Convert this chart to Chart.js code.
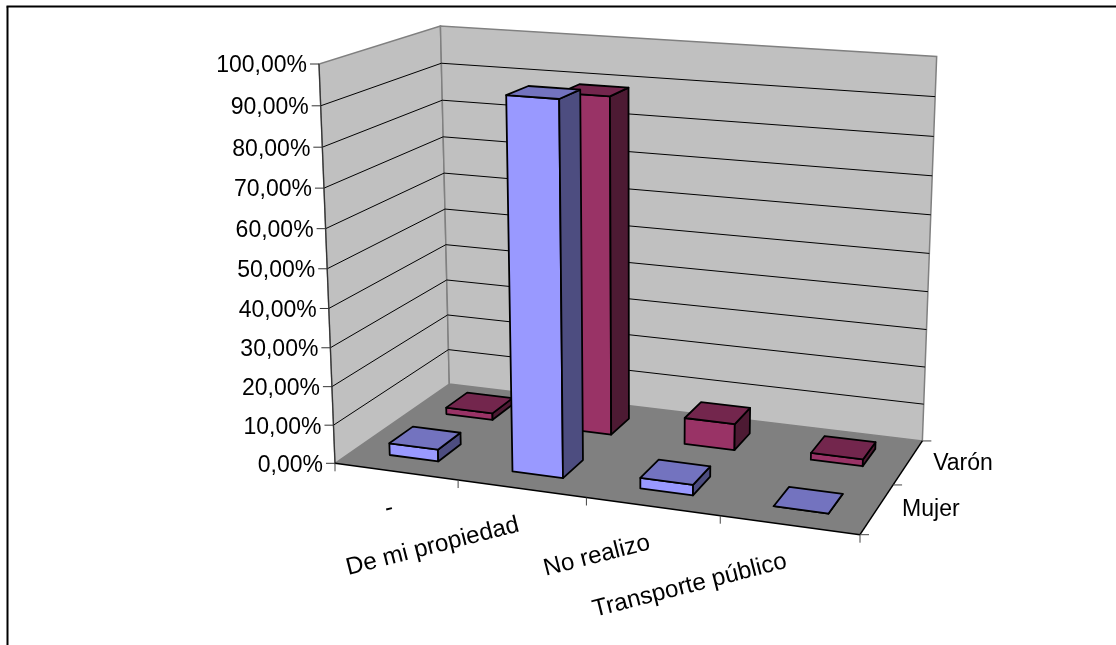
<!DOCTYPE html>
<html>
<head>
<meta charset="utf-8">
<title>Transporte</title>
<script src="https://cdn.jsdelivr.net/npm/chart.js@4/dist/chart.umd.min.js"></script>
<style>
  html, body { margin: 0; padding: 0; background: #fff; overflow: hidden; }
  canvas { display: block; }
</style>
</head>
<body>
<canvas id="chart" width="1116" height="645"></canvas>
<script>
const categories = ['-', 'De mi propiedad', 'No realizo', 'Transporte público'];
const seriesNames = ['Mujer', 'Varón'];
const mujerValues = [3.1, 93.8, 2.7, 0];
const varonValues = [1.8, 88.8, 7, 1.8];
const valueMax = 100;
const valueStep = 10;

const FONT = '23px "Liberation Sans"';
const CATEGORY_FONT = '24.2px "Liberation Sans"';
const DEPTH_PCT = 0.4;

// corners of the 3d box on the page, and how much each axis shrinks with distance
const O = [335, 463.3], U = [860, 534.7], V = [319, 64], W = [449.3, 384];
const PERSP = { u: 0.919, v: 0.95, w: 1.1205 };

function project(u, v, w) {
  const a = u * PERSP.u, b = v * PERSP.v, c = w * PERSP.w, r = 1 - u - v - w;
  const d = r + a + b + c;
  return [
    (O[0] * r + U[0] * a + V[0] * b + W[0] * c) / d,
    (O[1] * r + U[1] * a + V[1] * b + W[1] * c) / d
  ];
}

function poly(ctx, pts, fill, stroke, lw) {
  ctx.beginPath();
  pts.forEach((p, i) => i ? ctx.lineTo(p[0], p[1]) : ctx.moveTo(p[0], p[1]));
  ctx.closePath();
  if (fill) { ctx.fillStyle = fill; ctx.fill(); }
  if (stroke) { ctx.strokeStyle = stroke; ctx.lineWidth = lw; ctx.stroke(); }
}

function line(ctx, a, b, color, lw) {
  ctx.beginPath();
  ctx.moveTo(a[0], a[1]);
  ctx.lineTo(b[0], b[1]);
  ctx.strokeStyle = color;
  ctx.lineWidth = lw;
  ctx.stroke();
}

const box3d = {
  id: 'box3d',
  beforeDatasetsDraw(chart) {
    const ctx = chart.ctx, { x: xs, y: ys } = chart.scales;
    const area = chart.chartArea;
    const vOf = val => (area.bottom - ys.getPixelForValue(val)) / (area.bottom - area.top);

    ctx.save();
    // frame, cut by the page on the right and at the bottom
    line(ctx, [7.5, 645], [7.5, 6.5], '#000', 2);
    line(ctx, [6.5, 6.5], [1116, 6.5], '#000', 2);

    // walls and floor
    poly(ctx, [project(0, 0, 0), project(0, 1, 0), project(0, 1, 1), project(0, 0, 1)], '#c0c0c0', '#808080', 1.5);
    poly(ctx, [project(0, 0, 1), project(0, 1, 1), project(1, 1, 1), project(1, 0, 1)], '#c0c0c0', '#808080', 1.5);
    poly(ctx, [project(0, 0, 0), project(1, 0, 0), project(1, 0, 1), project(0, 0, 1)], '#808080');

    // value gridlines, ticks and labels
    ctx.font = FONT;
    ctx.textAlign = 'right';
    ctx.textBaseline = 'middle';
    ys.ticks.forEach(t => {
      const v = vOf(t.value), p = project(0, v, 0);
      if (t.value > 0 && t.value < valueMax) {
        line(ctx, p, project(0, v, 1), '#000', 1);
        line(ctx, project(0, v, 1), project(1, v, 1), '#000', 1);
      }
      line(ctx, [p[0] - 9, p[1]], p, '#333', 1);
      ctx.fillStyle = '#000';
      ctx.fillText(t.label, p[0] - 12, p[1] + 2);
    });

    // box edges in front
    line(ctx, project(0, 0, 0), project(0, 1, 0), '#333', 1.2);
    line(ctx, project(0, 0, 0), project(1, 0, 0), '#000', 1.5);
    line(ctx, project(1, 0, 0), project(1, 0, 1), '#000', 1.5);

    // category ticks
    const nCat = categories.length;
    for (let i = 0; i <= nCat; i++) {
      const p = project(i / nCat, 0, 0);
      line(ctx, p, [p[0], p[1] + 8], '#444', 1);
    }

    // category labels, their right end sits under the category centre
    ctx.font = CATEGORY_FONT;
    categories.forEach((label, i) => {
      const u = (xs.getPixelForValue(i) - area.left) / (area.right - area.left);
      const p = project(u, 0, 0);
      ctx.save();
      ctx.translate(p[0] - 3, p[1] + 36);
      ctx.rotate(-14.3 * Math.PI / 180);
      ctx.fillStyle = '#000';
      ctx.textAlign = 'right';
      ctx.textBaseline = 'middle';
      ctx.fillText(label, 0, 0);
      ctx.restore();
    });

    // series ticks and labels along the right floor edge
    ctx.font = FONT;
    const nSer = seriesNames.length;
    for (let i = 0; i <= nSer; i++) {
      const p = project(1, 0, i / nSer);
      line(ctx, p, [p[0] + 9, p[1]], '#444', 1);
    }
    seriesNames.forEach((name, i) => {
      const p = project(1, 0, (i + 0.5) / nSer);
      ctx.fillStyle = '#000';
      ctx.textAlign = 'left';
      ctx.textBaseline = 'middle';
      ctx.fillText(name, p[0] + 25, p[1] + 1);
    });
    ctx.restore();
  },
  beforeDatasetDraw() {
    return false; // the flat bars are replaced by the boxes below
  },
  afterDatasetsDraw(chart) {
    const ctx = chart.ctx, area = chart.chartArea;
    const nSer = chart.data.datasets.length;
    ctx.save();
    ctx.lineJoin = 'round';
    // back series first
    for (let s = nSer - 1; s >= 0; s--) {
      const ds = chart.data.datasets[s];
      const wMid = (s + 0.5) / nSer, wHalf = DEPTH_PCT / nSer / 2;
      chart.getDatasetMeta(s).data.forEach(bar => {
        const u0 = (bar.x - bar.width / 2 - area.left) / (area.right - area.left);
        const u1 = (bar.x + bar.width / 2 - area.left) / (area.right - area.left);
        const v = (area.bottom - bar.y) / (area.bottom - area.top);
        const w0 = wMid - wHalf, w1 = wMid + wHalf;
        poly(ctx, [project(u0, 0, w0), project(u1, 0, w0), project(u1, v, w0), project(u0, v, w0)], ds.backgroundColor, '#000', 1.8);
        poly(ctx, [project(u1, 0, w0), project(u1, 0, w1), project(u1, v, w1), project(u1, v, w0)], ds.sideColor, '#000', 1.8);
        poly(ctx, [project(u0, v, w0), project(u1, v, w0), project(u1, v, w1), project(u0, v, w1)], ds.topColor, '#000', 1.8);
      });
    }
    ctx.restore();
  }
};

new Chart(document.getElementById('chart').getContext('2d'), {
  type: 'bar',
  data: {
    labels: categories,
    datasets: [
      { label: seriesNames[0], data: mujerValues, backgroundColor: '#9999ff', topColor: '#7373bf', sideColor: '#4d4d80' },
      { label: seriesNames[1], data: varonValues, backgroundColor: '#993366', topColor: '#73264d', sideColor: '#4d1a33' }
    ]
  },
  options: {
    responsive: false,
    animation: false,
    layout: { padding: { left: O[0], right: 1116 - U[0], top: 64, bottom: 645 - O[1] } },
    plugins: { legend: { display: false }, tooltip: { enabled: false } },
    datasets: { bar: { grouped: false, categoryPercentage: DEPTH_PCT, barPercentage: 1 } },
    scales: {
      x: { display: false },
      y: {
        display: false,
        min: 0,
        max: valueMax,
        ticks: {
          stepSize: valueStep,
          callback: value => value.toFixed(2).replace('.', ',') + '%'
        }
      }
    }
  },
  plugins: [box3d]
});
</script>
</body>
</html>
